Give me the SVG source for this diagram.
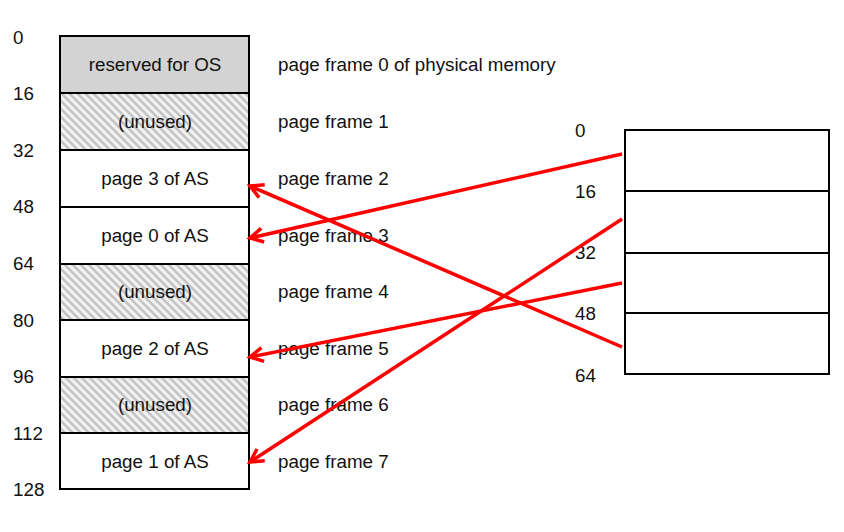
<svg xmlns="http://www.w3.org/2000/svg" width="844" height="532" viewBox="0 0 844 532">
<style>
text{font-family:"Liberation Sans",Arial,sans-serif;font-size:18.8px;fill:#111}
.c{text-anchor:middle}
.box{stroke:#000;stroke-width:2;fill:#fff}
.os{fill:#d3d3d3}
.hat{fill:url(#hatch)}
.arr{stroke:#f00;stroke-width:3.5;fill:none;marker-end:url(#ah)}
</style>
<defs>
<pattern id="hatch" patternUnits="userSpaceOnUse" width="8" height="8">
<rect width="8" height="8" fill="#f2f2f2"/>
<path d="M-2,-2 L10,10 M-2,6 L2,10 M6,-2 L10,2" stroke="#c4c4c4" stroke-width="2.6"/>
</pattern>
<marker id="ah" markerUnits="userSpaceOnUse" viewBox="-16 -10 20 20" markerWidth="20" markerHeight="20" refX="0" refY="0" orient="auto">
<path d="M-13,-7 L0,0 L-13,7" fill="none" stroke="#f00" stroke-width="3.5"/>
</marker>
</defs>
<g id="labels-left">
<text x="13" y="44">0</text>
<text x="13" y="100">16</text>
<text x="13" y="157">32</text>
<text x="13" y="213">48</text>
<text x="13" y="270">64</text>
<text x="13" y="327">80</text>
<text x="13" y="383">96</text>
<text x="13" y="440">112</text>
<text x="13" y="496">128</text>
</g>
<g id="frame0"><rect class="box os" x="60" y="36" width="189" height="57"/><text class="c" x="155" y="71">reserved for OS</text><text x="278" y="71">page frame 0 of physical memory</text></g>
<g id="frame1"><rect class="box hat" x="60" y="93" width="189" height="57"/><text class="c" x="155" y="128">(unused)</text><text x="278" y="128">page frame 1</text></g>
<g id="frame2"><rect class="box" x="60" y="150" width="189" height="57"/><text class="c" x="155" y="185">page 3 of AS</text><text x="278" y="185">page frame 2</text></g>
<g id="frame3"><rect class="box" x="60" y="207" width="189" height="57"/><text class="c" x="155" y="242">page 0 of AS</text><text x="278" y="242">page frame 3</text></g>
<g id="frame4"><rect class="box hat" x="60" y="264" width="189" height="56"/><text class="c" x="155" y="298">(unused)</text><text x="278" y="298">page frame 4</text></g>
<g id="frame5"><rect class="box" x="60" y="320" width="189" height="57"/><text class="c" x="155" y="355">page 2 of AS</text><text x="278" y="355">page frame 5</text></g>
<g id="frame6"><rect class="box hat" x="60" y="377" width="189" height="56"/><text class="c" x="155" y="411">(unused)</text><text x="278" y="411">page frame 6</text></g>
<g id="frame7"><rect class="box" x="60" y="433" width="189" height="56"/><text class="c" x="155" y="468">page 1 of AS</text><text x="278" y="468">page frame 7</text></g>
<g id="labels-right">
<text x="575" y="137">0</text>
<text x="575" y="198">16</text>
<text x="575" y="259">32</text>
<text x="575" y="320">48</text>
<text x="575" y="382">64</text>
</g>
<g id="as0"><rect class="box" x="625" y="130" width="204" height="61"/></g>
<g id="as1"><rect class="box" x="625" y="191" width="204" height="62"/></g>
<g id="as2"><rect class="box" x="625" y="253" width="204" height="60"/></g>
<g id="as3"><rect class="box" x="625" y="313" width="204" height="61"/></g>
<g id="connectors">
<line class="arr" x1="622" y1="154" x2="250" y2="238"/>
<line class="arr" x1="622" y1="219" x2="250" y2="462"/>
<line class="arr" x1="622" y1="283" x2="250" y2="357"/>
<line class="arr" x1="622" y1="347" x2="250" y2="186"/>
</g>
</svg>
